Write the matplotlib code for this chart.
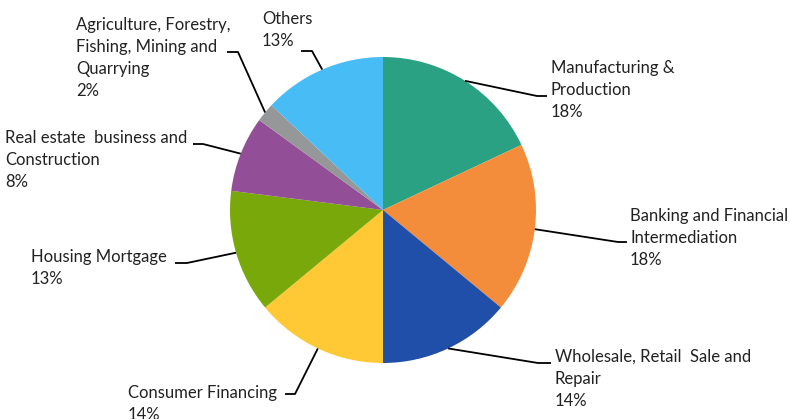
import numpy as np
import matplotlib
matplotlib.use("Agg")
import matplotlib.pyplot as plt

categories = [
    "Manufacturing &\nProduction",
    "Banking and Financial\nIntermediation",
    "Wholesale, Retail  Sale and\nRepair",
    "Consumer Financing",
    "Housing Mortgage",
    "Real estate  business and\nConstruction",
    "Agriculture, Forestry,\nFishing, Mining and\nQuarrying",
    "Others",
]
values = [18, 18, 14, 14, 13, 8, 2, 13]
colors = ["#2aa183", "#f48d3b", "#1f4fa9", "#ffc835", "#79a80b", "#924f97", "#959799", "#48bcf4"]

W, H = 790, 419
fig = plt.figure(figsize=(W / 100, H / 100), dpi=100)
ax = fig.add_axes([0, 0, 1, 1])

cx, cy, r = 383, H - 210, 153
wedges, _ = ax.pie(values, colors=colors, startangle=90, counterclock=False,
                   center=(cx, cy), radius=r, frame=True,
                   wedgeprops=dict(linewidth=0))
ax.set_xlim(0, W)
ax.set_ylim(0, H)
ax.set_aspect("equal")
ax.axis("off")

# label layout: (elbow x, elbow y, line end x, text left x, text top y)  in image pixels
layout = [
    (537, 96, 547, 551, 60),
    (618, 242, 627, 630, 208),
    (538, 363, 551, 555, 349),
    (295, 394, 285, 128, 385),
    (187, 263, 175, 31, 249),
    (203, 144, 193, 5, 130),
    (238, 52, 227, 76, 17),
    (312, 51, 301, 262, 11),
]

font = dict(family=["Lato", "DejaVu Sans"], fontsize=12, color="#222222")
LS = 1.45
for w, cat, val, (ex, ey, hx, tx, ty) in zip(wedges, categories, values, layout):
    ang = np.deg2rad((w.theta1 + w.theta2) / 2)
    px, py = cx + r * np.cos(ang), cy + r * np.sin(ang)
    ax.plot([px, ex, hx], [py, H - ey, H - ey], color="black", lw=1.3,
            solid_capstyle="butt", zorder=3)
    ax.text(tx, H - ty, f"{cat}\n{val}%", ha="left", va="top", linespacing=LS, **font)

fig.savefig("out.png", dpi=100)
